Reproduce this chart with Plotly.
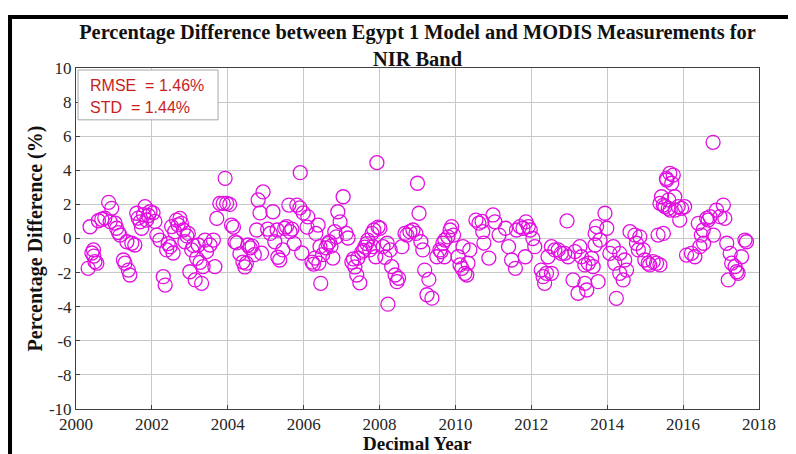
import plotly.graph_objects as go

decimal_year = [
    2000.32, 2000.37, 2000.42, 2000.46, 2000.47, 2000.50, 2000.55, 2000.59, 2000.68, 2000.76, 2000.86, 2000.90, 2000.94,
    2001.03, 2001.07, 2001.12, 2001.16, 2001.25, 2001.29, 2001.34, 2001.38, 2001.42, 2001.47, 2001.55, 2001.60, 2001.64,
    2001.69, 2001.73, 2001.78, 2001.82, 2001.86, 2001.91, 2001.95,
    2002.03, 2002.08, 2002.13, 2002.21, 2002.30, 2002.35, 2002.39, 2002.43, 2002.48, 2002.52, 2002.56, 2002.60, 2002.65,
    2002.69, 2002.74, 2002.78, 2002.83, 2002.87, 2002.92, 2002.96,
    2003.00, 2003.05, 2003.09, 2003.14, 2003.18, 2003.22, 2003.27, 2003.31, 2003.35, 2003.40, 2003.44, 2003.53, 2003.62,
    2003.66, 2003.71, 2003.79, 2003.88, 2003.93, 2003.97,
    2004.05, 2004.10, 2004.15, 2004.19, 2004.24, 2004.32, 2004.40, 2004.45, 2004.49, 2004.53, 2004.59, 2004.64, 2004.70,
    2004.76, 2004.80, 2004.85, 2004.89, 2004.93,
    2005.05, 2005.12, 2005.19, 2005.24, 2005.30, 2005.32, 2005.37, 2005.45, 2005.50, 2005.55, 2005.61, 2005.64, 2005.69,
    2005.75, 2005.82, 2005.90, 2005.91, 2005.95,
    2005.99, 2006.09, 2006.11, 2006.22, 2006.26, 2006.30, 2006.32, 2006.38, 2006.40, 2006.43, 2006.45, 2006.50, 2006.59,
    2006.64, 2006.68, 2006.72, 2006.77, 2006.82, 2006.86, 2006.90, 2006.96,
    2007.04, 2007.12, 2007.17, 2007.27, 2007.31, 2007.35, 2007.40, 2007.43, 2007.48, 2007.53, 2007.58, 2007.61, 2007.66,
    2007.69, 2007.74, 2007.80, 2007.83, 2007.85, 2007.90, 2007.93, 2007.96,
    2008.01, 2008.09, 2008.14, 2008.20, 2008.22, 2008.28, 2008.32, 2008.41, 2008.46, 2008.50, 2008.59, 2008.67, 2008.72,
    2008.80, 2008.88, 2008.96,
    2009.00, 2009.04, 2009.09, 2009.14, 2009.19, 2009.25, 2009.30, 2009.38, 2009.51, 2009.59, 2009.62, 2009.67, 2009.71,
    2009.72, 2009.80, 2009.86, 2009.90, 2009.95,
    2010.07, 2010.12, 2010.17, 2010.20, 2010.25, 2010.30, 2010.33, 2010.38, 2010.54, 2010.62, 2010.70, 2010.72, 2010.75,
    2010.88, 2010.99,
    2011.04, 2011.15, 2011.32, 2011.40, 2011.48, 2011.58, 2011.61, 2011.70, 2011.78, 2011.84, 2011.86, 2011.92, 2011.97,
    2012.04, 2012.09, 2012.26, 2012.31, 2012.35, 2012.40, 2012.44, 2012.53, 2012.53, 2012.62, 2012.71, 2012.79, 2012.88,
    2012.94, 2012.97,
    2013.10, 2013.15, 2013.23, 2013.28, 2013.32, 2013.41, 2013.41, 2013.46, 2013.50, 2013.59, 2013.63, 2013.68, 2013.68,
    2013.72, 2013.76, 2013.81, 2013.94, 2013.99,
    2014.07, 2014.16, 2014.20, 2014.24, 2014.33, 2014.33, 2014.42, 2014.46, 2014.51, 2014.60, 2014.73, 2014.77, 2014.82,
    2014.86, 2014.95, 2014.99,
    2015.08, 2015.12, 2015.21, 2015.30, 2015.34, 2015.39, 2015.39, 2015.43, 2015.48, 2015.48, 2015.52, 2015.56, 2015.57,
    2015.61, 2015.62, 2015.65, 2015.66, 2015.70, 2015.74, 2015.78, 2015.79, 2015.87, 2015.91, 2015.96,
    2016.04, 2016.09, 2016.22, 2016.31, 2016.40, 2016.44, 2016.48, 2016.53, 2016.54, 2016.62, 2016.66, 2016.71, 2016.79,
    2016.80, 2016.88, 2016.97,
    2017.06, 2017.10, 2017.15, 2017.19, 2017.24, 2017.28, 2017.37, 2017.41, 2017.45, 2017.54, 2017.63, 2017.67,
]

pct_diff = [
    -1.75, 0.69, -0.85, -0.67, -1.03, -1.36, -1.45, 1.04, 1.13, 1.20, 2.12, 0.99, 1.77,
    0.90, 0.60, 0.35, 0.20, -1.26, -1.45, -0.19, -1.85, -2.14, -0.28, -0.38, 1.48, 1.20,
    0.98, 0.60, 1.40, 1.87, 1.08, 1.35, 1.57,
    1.50, 1.00, 0.20, -0.09, -2.24, -2.73, -0.67, -0.30, -0.48, 0.70, -0.85, 0.40, 1.08,
    0.80, 1.18, 0.89, 0.50, -0.19, 0.15, 0.30,
    -1.95, -0.67, -0.40, -2.43, -1.16, -0.38, -1.40, -2.63, -1.65, -0.09, -0.77, -0.38, -0.09,
    -1.65, 1.18, 2.06, 2.06, 3.53, 2.06,
    2.00, 0.79, 0.67, -0.20, -0.26, -0.90, -1.38, -1.67, -1.45, -0.38, -0.55, -0.45, -0.95,
    0.50, 2.26, 1.50, -0.86, 2.73,
    0.55, 0.30, 1.57, -0.19, 0.50, -1.10, -1.26, -0.67, 0.60, 0.70, 1.96, 0.40, 0.55,
    -0.30, 1.96, 1.80, 3.86, -0.85,
    1.50, 0.67, 1.27, -1.38, -1.50, -1.15, 0.30, 0.79, -1.45, -0.48, -2.63, -0.95, -0.55,
    -0.30, -0.20, -0.45, -1.15, 0.40, 0.10, 1.57, 0.98,
    2.45, 0.30, 0.03, -1.38, -1.20, -1.67, -2.14, -1.15, -2.60, -0.80, -0.70, -0.50, -0.30,
    -0.10, -0.67, 0.30, -0.48, 0.50, -1.07, 4.45, 0.67,
    0.60, -0.48, -1.10, -0.28, -3.85, -0.67, -1.65, -2.14, -2.53, -2.33, -0.48, 0.30, 0.20,
    0.40, 0.50, 0.30,
    3.24, 1.48, -0.19, -0.67, -1.85, -3.30, -2.40, -3.50, -1.07, -0.67, -0.77, -0.28, -1.07,
    -0.09, 0.10, 0.50, 0.70, 0.20,
    -1.07, -1.55, -1.75, -0.48, -2.04, -2.14, -1.45, -0.67, 1.08, 0.90, 1.00, 0.40, -0.27,
    -1.15, 1.38,
    0.98, 0.20, 0.60, -0.48, -1.26, -1.75, 0.50, 0.70, 0.60, -1.07, 0.98, 0.70, 0.50,
    0.00, -0.48, -1.85, -2.24, -2.63, -2.04, -1.07, -2.04, -0.48, -0.67, -0.67, -0.87, -0.87,
    1.03, -1.07,
    -2.43, -0.77, -3.21, -0.48, -1.07, -1.55, -2.63, -3.02, -1.45, -1.16, -1.65, 0.30, -0.38,
    0.70, -2.53, -0.09, 1.48, 0.60,
    -0.87, -0.48, -1.45, -3.51, -2.04, -0.87, -2.43, -1.26, -1.85, 0.40, 0.20, -0.28, -0.67,
    0.10, -0.67, -1.26,
    -1.45, -1.55, -1.36, -1.45, 0.20, -1.55, 2.06, 2.45, 0.30, 1.96, 1.87, 3.53, 3.43,
    1.77, 2.26, 3.82, 1.67, 3.24, 3.72, 2.45, 1.67, 1.87, 1.08, 1.77,
    1.87, -0.97, -0.87, -1.07, 0.89, -0.48, 0.20, 0.50, -0.28, 1.18, 1.08, 1.28, 5.64,
    0.20, 1.67, 1.28,
    1.96, 1.18, -0.28, -2.43, -0.87, -1.45, -1.65, -1.95, -2.04, -1.07, -0.09, -0.19,
]

x_ticks = [2000, 2002, 2004, 2006, 2008, 2010, 2012, 2014, 2016, 2018]
y_ticks = [-10, -8, -6, -4, -2, 0, 2, 4, 6, 8, 10]
stats_text = ["RMSE  = 1.46%", "STD  = 1.44%"]

SERIF = "Liberation Serif, Times New Roman, serif"
SANS = "Liberation Sans, Arial, sans-serif"

# page body has an 8px default margin: figure is 788x446 so it fills the 796x454 window
W, H = 788, 446
PLOT_TOP, PLOT_BOTTOM = 60, 401  # px from top of figure

fig = go.Figure()
fig.add_trace(go.Scatter(
    x=decimal_year, y=pct_diff, mode="markers",
    marker=dict(symbol="circle-open", size=14, color="#e010e0", line=dict(width=1.3, color="#e010e0")),
    showlegend=False, hoverinfo="x+y",
))

axis_common = dict(
    showgrid=True, gridcolor="#c8c8c8", gridwidth=1,
    showline=True, linecolor="#404040", linewidth=1, mirror=True,
    ticks="inside", ticklen=4, tickcolor="#404040",
    zeroline=False, automargin=False,
    tickfont=dict(family=SERIF, size=17, color="#262626"),
)

fig.update_layout(
    width=W, height=H,
    paper_bgcolor="white", plot_bgcolor="white",
    margin=dict(l=68, r=W - 751, t=PLOT_TOP, b=H - PLOT_BOTTOM, autoexpand=False),
    title=dict(
        text="<b>Percentage Difference between Egypt 1 Model and MODIS Measurements for<br>NIR Band</b>",
        x=0.5, xref="paper", xanchor="center",
        y=1 - 31 / H, yref="container", yanchor="top", automargin=False,
        font=dict(family=SERIF, size=20.4, color="#111111"),
    ),
    xaxis=dict(
        range=[2000, 2018], tickvals=x_ticks, ticktext=[str(t) for t in x_ticks],
        **axis_common,
    ),
    yaxis=dict(
        range=[-10, 10], tickvals=y_ticks, ticktext=[str(t) for t in y_ticks],
        title=dict(text="<b>Percentage Difference (%)</b>", font=dict(family=SERIF, size=20, color="#111111"), standoff=0),
        **axis_common,
    ),
)

# x-axis title placed just below the tick labels
fig.add_annotation(xref="paper", yref="paper", x=0.5, y=(PLOT_BOTTOM - 435.5) / (PLOT_BOTTOM - PLOT_TOP),
                   xanchor="center", yanchor="middle", showarrow=False, borderpad=0,
                   text="<b>Decimal Year</b>", font=dict(family=SERIF, size=19, color="#111111"))

# stats box
fig.add_shape(type="rect", xref="paper", yref="paper", x0=0.003, x1=0.208, y0=0.848, y1=0.994,
              fillcolor="white", line=dict(color="#a8a8a8", width=1), layer="above")
fig.add_annotation(xref="paper", yref="paper", x=0.017, y=0.948, xanchor="left", yanchor="middle",
                   text=stats_text[0], showarrow=False, font=dict(family=SANS, size=16, color="#c81e1e"))
fig.add_annotation(xref="paper", yref="paper", x=0.017, y=0.885, xanchor="left", yanchor="middle",
                   text=stats_text[1], showarrow=False, font=dict(family=SANS, size=16, color="#c81e1e"))

# black outer frame
fig.add_shape(type="rect", xref="paper", yref="paper", x0=-0.0966, x1=1.0483, y0=-0.2, y1=1.1496,
              line=dict(color="black", width=4), fillcolor="rgba(0,0,0,0)", layer="above")

fig.write_html("out.html")
